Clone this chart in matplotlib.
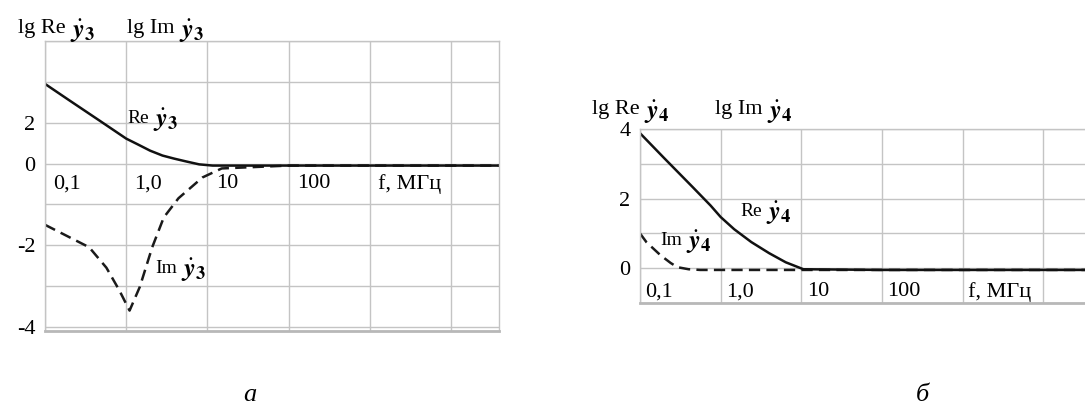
import numpy as np
import matplotlib
matplotlib.use("Agg")
import matplotlib.pyplot as plt

plt.rcParams['font.family'] = ['Liberation Serif', 'DejaVu Serif']
plt.rcParams['mathtext.fontset'] = 'stix'

# ---------------- data ----------------
# panel a
f_re_a = [0.1, 0.2, 0.47, 1.0, 1.4, 1.97, 2.8, 3.9, 5.5, 7.9, 11.6, 100, 1000, 10000, 38900]
re_a = [3.9, 3.09, 2.1, 1.22, 0.93, 0.63, 0.39, 0.24, 0.1, -0.02, -0.05, -0.05, -0.05, -0.05, -0.05]
f_im_a = [0.1, 0.35, 0.57, 0.82, 1.1, 1.47, 2.09, 2.9, 4.4, 8.7, 15, 100, 1000, 10000, 38900]
im_a = [-1.5, -2.05, -2.55, -3.1, -3.6, -3.02, -2.05, -1.32, -0.85, -0.34, -0.12, -0.05, -0.05, -0.05, -0.05]

# panel b
f_re_b = [0.1, 0.2, 0.45, 0.75, 1.0, 1.47, 2.4, 4.0, 6.4, 10.6, 100, 1000, 10000, 38900]
re_b = [3.88, 3.16, 2.33, 1.8, 1.47, 1.12, 0.75, 0.43, 0.17, -0.03, -0.05, -0.05, -0.05, -0.05]
f_im_b = [0.1, 0.12, 0.18, 0.24, 0.29, 0.4, 0.56, 1.0, 10, 100, 1000, 10000, 38900]
im_b = [1.0, 0.75, 0.37, 0.15, 0.03, -0.03, -0.05, -0.05, -0.05, -0.05, -0.05, -0.05, -0.05]

x_grid = [0.1, 1, 10, 100, 1000, 10000]
x_tick_pos = [0.1, 1, 10, 100, 1000]
x_tick_labels = ['0,1', '1,0', '10', '100', 'f, МГц']

ya_ticks = [-4, -2, 0, 2]
ya_labels = ['-4', '-2', '0', '2']
ya_minor = [-3, -1, 4, 6]
yb_ticks = [0, 2, 4]
yb_labels = ['0', '2', '4']
yb_minor = [-1, 1, 3]

W, H = 1085, 407
GRID = '#c4c4c4'
DASH = (0, (4.5, 2.5))

fig = plt.figure(figsize=(W / 100, H / 100), dpi=100)
overlay = fig.add_axes([0, 0, 1, 1])
overlay.set_axis_off()
overlay.set_xlim(0, W)
overlay.set_ylim(H, 0)
overlay.set_zorder(5)


def ax_at(l, t, r, b):
    return fig.add_axes([l / W, (H - b) / H, (r - l) / W, (b - t) / H])


def fwd(y):
    y = np.asarray(y, dtype=float)
    return np.where(y > 0, y / 2.0, y)


def inv(g):
    g = np.asarray(g, dtype=float)
    return np.where(g > 0, g * 2.0, g)


def style(ax, yt, yl, ym, ylim, lab_y, xoff):
    ax.set_xscale('log')
    ax.set_xlim(0.1, 10 ** 4.59)
    ax.set_ylim(*ylim)
    ax.set_xticks(x_grid)
    ax.set_xticks([], minor=True)
    ax.set_xticklabels([])
    ax.set_yticks(yt)
    ax.set_yticklabels(yl, fontsize=16)
    ax.set_yticks(ym, minor=True)
    ax.tick_params(axis='both', which='both', length=0)
    ax.tick_params(axis='y', pad=7)
    ax.grid(True, which='both', color=GRID, lw=1.0)
    ax.set_axisbelow(True)
    for s in ax.spines.values():
        s.set_color(GRID)
        s.set_linewidth(1.0)
    ax.spines['bottom'].set_linewidth(2.0)
    ax.spines['bottom'].set_color('#b8b8b8')
    for xv, txt in zip(x_tick_pos, x_tick_labels):
        ax.annotate(txt, xy=(xv, lab_y), xytext=(xoff, 0), textcoords='offset points',
                    ha='left', va='center', fontsize=16)


def ylabel_text(ax, x, y, prefix, sub, fs=16, yfs=19):
    t = ax.text(x, y, prefix, fontsize=fs, ha='left', va='baseline')
    ax.annotate(r'$\dot{\mathbfit{y}}_{\mathbf{%s}}$' % sub, xy=(1, 0), xycoords=t,
                xytext=(3, 0), textcoords='offset points', ha='left', va='baseline',
                fontsize=yfs)


# ---------------- panel a ----------------
axa = ax_at(45, 41, 499, 331)
axa.set_yscale('function', functions=(fwd, inv))
style(axa, ya_ticks, ya_labels, ya_minor, (-4.1, 6), -0.5, 6)
axa.plot(f_im_a, im_a, color='#1a1a1a', lw=1.8, ls=DASH)
axa.plot(f_re_a, re_a, color='#111111', lw=1.8)

# ---------------- panel b ----------------
axb = ax_at(640, 129, 1091, 303)
style(axb, yb_ticks, yb_labels, yb_minor, (-1, 4), -0.68, 4)
axb.plot(f_im_b, im_b, color='#1a1a1a', lw=1.8, ls=DASH)
axb.plot(f_re_b, re_b, color='#111111', lw=1.8)

# headers
ylabel_text(overlay, 18, 33, 'lg Re', '3')
ylabel_text(overlay, 127, 33, 'lg Im', '3')
ylabel_text(overlay, 592, 114, 'lg Re', '4')
ylabel_text(overlay, 715, 114, 'lg Im', '4')

# curve annotations
ylabel_text(axa, 1.02, 2.0, 'Re', '3', fs=14, yfs=19)
ylabel_text(axa, 2.28, -2.68, 'Im', '3', fs=14, yfs=19)
ylabel_text(axb, 1.75, 1.49, 'Re', '4', fs=14, yfs=19)
ylabel_text(axb, 0.178, 0.66, 'Im', '4', fs=14, yfs=19)

# captions
overlay.text(250, 395, 'а', fontsize=19, style='italic', ha='center', va='center')
overlay.text(922, 395, 'б', fontsize=19, style='italic', ha='center', va='center')

fig.savefig('out.png', dpi=100)
